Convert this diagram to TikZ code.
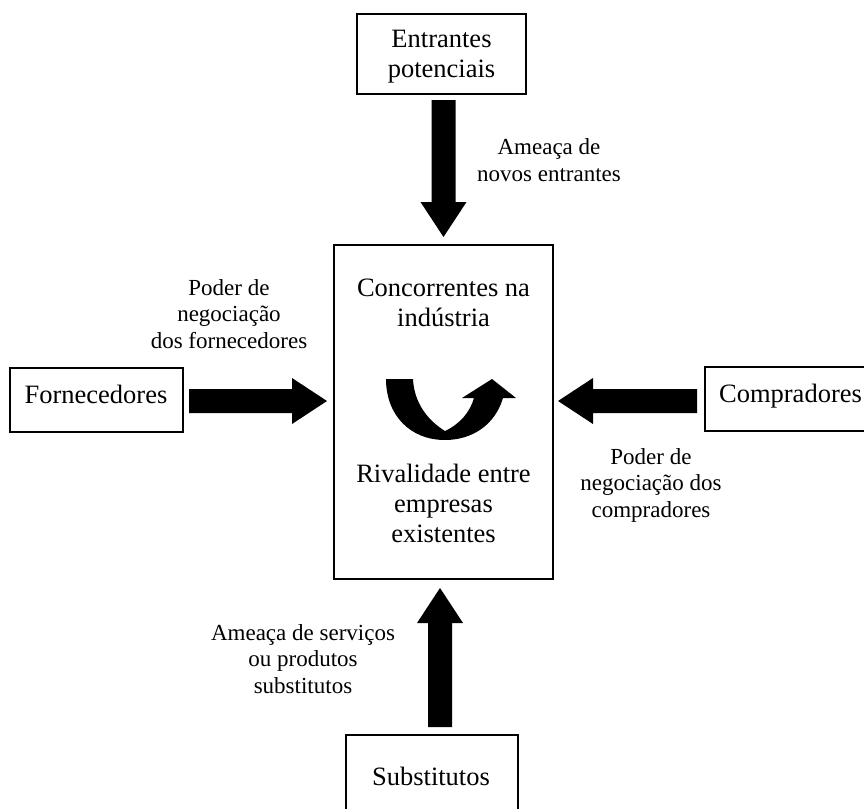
\documentclass[tikz,border=0pt]{standalone}
\usepackage{fontspec}
\setmainfont{Liberation Serif}
\usetikzlibrary{calc}
\tikzset{
  box/.style={draw, line width=1.8pt, inner sep=0pt, outer sep=0pt},
  boxtext/.style={font=\fontsize{26.5}{30}\selectfont, align=center, inner sep=0pt},
  lbl/.style={font=\fontsize{23}{26.5}\selectfont, align=center, inner sep=0pt},
  blockarrow/.style={to path={
    let \p1=(\tikztostart), \p2=(\tikztotarget),
        \n1={atan2(\y2-\y1,\x2-\x1)},
        \n2={veclen(\x2-\x1,\y2-\y1)-35pt}
    in ([shift={(\p1)},rotate=\n1]0pt,12pt)
    -- ([shift={(\p1)},rotate=\n1]\n2,12pt)
    -- ([shift={(\p1)},rotate=\n1]\n2,23pt)
    -- (\tikztotarget)
    -- ([shift={(\p1)},rotate=\n1]\n2,-23pt)
    -- ([shift={(\p1)},rotate=\n1]\n2,-12pt)
    -- ([shift={(\p1)},rotate=\n1]0pt,-12pt)
    -- cycle}}
}
\begin{document}
\begin{tikzpicture}[x=1pt,y=-1pt]
\useasboundingbox (0,0) rectangle (864,808);
\clip (0,0) rectangle (864,808);

% boxes
\node[box, minimum width=169pt, minimum height=80pt]  (top)  at (441.5,54)  {};
\node[box, minimum width=219pt, minimum height=334pt] (ctr)  at (443.5,412) {};
\node[box, minimum width=173pt, minimum height=64pt]  (forn) at (96.5,400)  {};
\node[box, minimum width=172pt, minimum height=64pt]  (comp) at (791,399)   {};
\node[box, minimum width=172pt, minimum height=87pt]  (subs) at (432,778.5) {};

% box texts
\node[boxtext] (ttop)  at (441.5,57)  {Entrantes\\potenciais};
\node[boxtext] (tconc) at (443.5,303) {Concorrentes na\\indústria};
\node[boxtext] (triv)  at (443.5,503) {Rivalidade entre\\empresas\\existentes};
\node[boxtext] (tforn) at (96,394)    {Fornecedores};
\node[boxtext] (tcomp) at (790.5,396) {Compradores};
\node[boxtext] (tsubs) at (431,776)   {Substitutos};

% labels
\node[lbl] (l1) at (549,160)   {Ameaça de\\novos entrantes};
\node[lbl] (l2) at (229,314)   {Poder de\\negociação\\dos fornecedores};
\node[lbl] (l3) at (651,485)   {Poder de\\negociação dos\\compradores};
\node[lbl] (l4) at (303,659)   {Ameaça de serviços\\ou produtos\\substitutos};

% arrow end points
\coordinate (a1s) at ($(ctr.north |- top.south)+(0,6)$);
\coordinate (a1t) at ($(ctr.north)+(0,-8)$);
\coordinate (a2s) at ($(forn.east)+(6,1)$);
\coordinate (a2t) at ($(ctr.west |- a2s)+(-7,0)$);
\coordinate (a3s) at ($(comp.west)+(-8,2)$);
\coordinate (a3t) at ($(ctr.east |- a3s)+(5,0)$);
\coordinate (a4s) at ($(subs.north)+(8,-8)$);
\coordinate (a4t) at ($(ctr.south -| a4s)+(0,9)$);

\fill (a1s) to[blockarrow] (a1t);
\fill (a2s) to[blockarrow] (a2t);
\fill (a3s) to[blockarrow] (a3t);
\fill (a4s) to[blockarrow] (a4t);

% curved rivalry arrow
\fill (386,379) -- (413,379)
  .. controls (414,402) and (427,420) .. (445,431)
  .. controls (460,424) and (470,412) .. (474,398)
  -- (462,398) -- (492,379) -- (516,398) -- (503,398)
  .. controls (495,425) and (472,440) .. (445,440)
  .. controls (410,440) and (386,415) .. (386,379) -- cycle;
\end{tikzpicture}
\end{document}
